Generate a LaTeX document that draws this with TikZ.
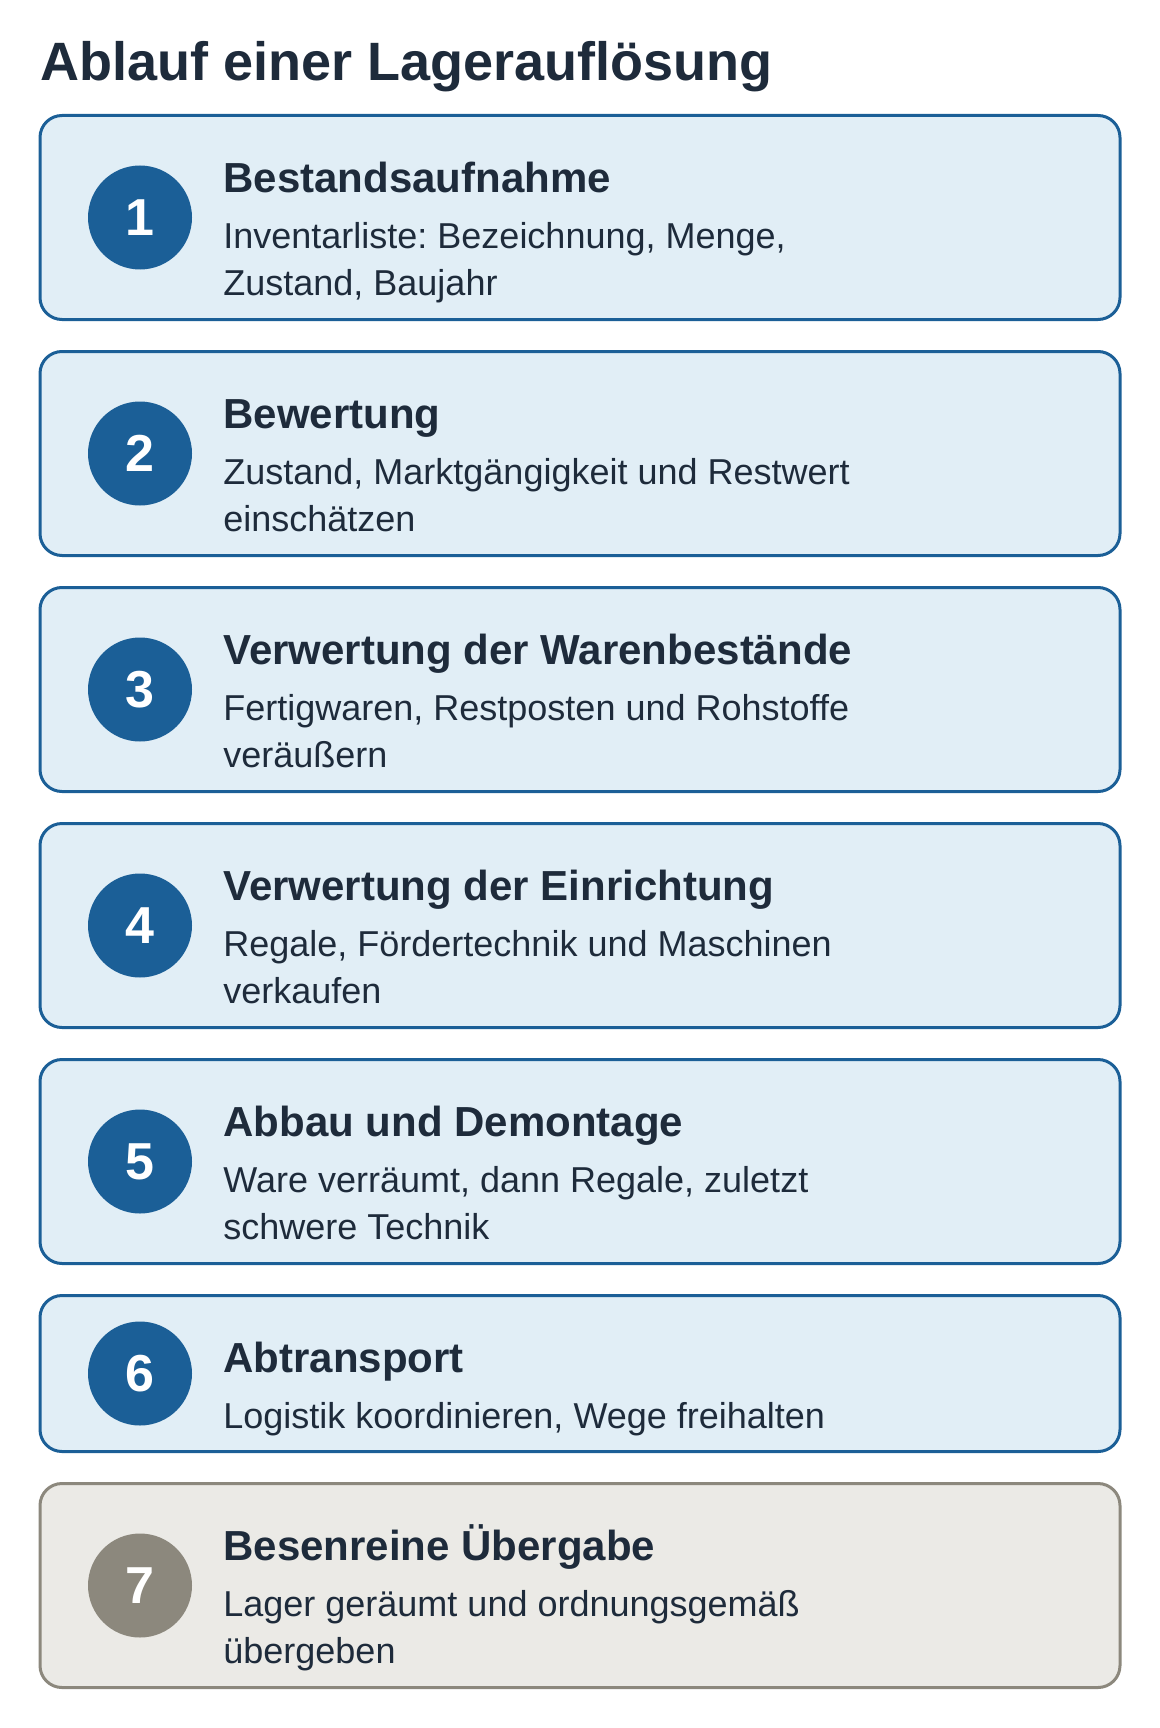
\documentclass[tikz,border=0pt]{standalone}
\usepackage{fontspec}
\setmainfont{Liberation Sans}
\frenchspacing
\definecolor{stepblue}{HTML}{1B5F97}
\definecolor{stepfill}{HTML}{E1EEF6}
\definecolor{endgray}{HTML}{8C887D}
\definecolor{endfill}{HTML}{EBEAE6}
\definecolor{ink}{HTML}{1E2B3B}

\begin{document}
\begin{tikzpicture}[x=0.5pt,y=-0.5pt]
	\tikzstyle{stepbox}=[draw=stepblue,fill=stepfill,line width=1.5pt,rounded corners=11pt,minimum width=540pt,minimum height=102pt,inner sep=0pt,outer sep=0pt]
	\tikzstyle{lastbox}=[stepbox,draw=endgray,fill=endfill]
	\tikzstyle{num}=[circle,fill=stepblue,text=white,minimum size=52pt,inner sep=0pt,font=\fontsize{26}{30}\selectfont\bfseries]
	\tikzstyle{head}=[anchor=base west,inner sep=0pt,text=ink,font=\fontsize{21}{25}\selectfont\bfseries]
	\tikzstyle{desc}=[anchor=base west,inner sep=0pt,text=ink,font=\fontsize{18}{23.35}\selectfont]

	\useasboundingbox (0,0) rectangle (1160,1728);

	\node [anchor=base west,inner sep=0pt,text=ink,font=\fontsize{27}{31}\selectfont\bfseries] (title) at (40,81) {Ablauf einer Lagerauflösung};

	% Schritt 1
	\node [stepbox] (box1) at (580,217.5) {};
	\node [num] (n1) at ([xshift=50pt]box1.west) {1};
	\node [head] (h1) at ([xshift=91.5pt,yshift=-38.6pt]box1.north west) {Bestandsaufnahme};
	\node [desc] (d1) at ([xshift=91.5pt,yshift=-66.4pt]box1.north west) {\begin{tabular}[t]{@{}l@{}}Inventarliste: Bezeichnung, Menge,\\Zustand, Baujahr\end{tabular}};

	% Schritt 2
	\node [stepbox] (box2) at (580,453.5) {};
	\node [num] (n2) at ([xshift=50pt]box2.west) {2};
	\node [head] (h2) at ([xshift=91.5pt,yshift=-38.6pt]box2.north west) {Bewertung};
	\node [desc] (d2) at ([xshift=91.5pt,yshift=-66.4pt]box2.north west) {\begin{tabular}[t]{@{}l@{}}Zustand, Marktgängigkeit und Restwert\\einschätzen\end{tabular}};

	% Schritt 3
	\node [stepbox] (box3) at (580,689.5) {};
	\node [num] (n3) at ([xshift=50pt]box3.west) {3};
	\node [head] (h3) at ([xshift=91.5pt,yshift=-38.6pt]box3.north west) {Verwertung der Warenbestände};
	\node [desc] (d3) at ([xshift=91.5pt,yshift=-66.4pt]box3.north west) {\begin{tabular}[t]{@{}l@{}}Fertigwaren, Restposten und Rohstoffe\\veräußern\end{tabular}};

	% Schritt 4
	\node [stepbox] (box4) at (580,925.5) {};
	\node [num] (n4) at ([xshift=50pt]box4.west) {4};
	\node [head] (h4) at ([xshift=91.5pt,yshift=-38.6pt]box4.north west) {Verwertung der Einrichtung};
	\node [desc] (d4) at ([xshift=91.5pt,yshift=-66.4pt]box4.north west) {\begin{tabular}[t]{@{}l@{}}Regale, Fördertechnik und Maschinen\\verkaufen\end{tabular}};

	% Schritt 5
	\node [stepbox] (box5) at (580,1161.5) {};
	\node [num] (n5) at ([xshift=50pt]box5.west) {5};
	\node [head] (h5) at ([xshift=91.5pt,yshift=-38.6pt]box5.north west) {Abbau und Demontage};
	\node [desc] (d5) at ([xshift=91.5pt,yshift=-66.4pt]box5.north west) {\begin{tabular}[t]{@{}l@{}}Ware verräumt, dann Regale, zuletzt\\schwere Technik\end{tabular}};

	% Schritt 6
	\node [stepbox,minimum height=78pt] (box6) at (580,1373.5) {};
	\node [num] (n6) at ([xshift=50pt]box6.west) {6};
	\node [head] (h6) at ([xshift=91.5pt,yshift=-38.6pt]box6.north west) {Abtransport};
	\node [desc] (d6) at ([xshift=91.5pt,yshift=-66.4pt]box6.north west) {Logistik koordinieren, Wege freihalten};

	% Schritt 7
	\node [lastbox] (box7) at (580,1585.5) {};
	\node [num,fill=endgray] (n7) at ([xshift=50pt]box7.west) {7};
	\node [head] (h7) at ([xshift=91.5pt,yshift=-38.6pt]box7.north west) {Besenreine Übergabe};
	\node [desc] (d7) at ([xshift=91.5pt,yshift=-66.4pt]box7.north west) {\begin{tabular}[t]{@{}l@{}}Lager geräumt und ordnungsgemäß\\übergeben\end{tabular}};

\end{tikzpicture}
\end{document}
